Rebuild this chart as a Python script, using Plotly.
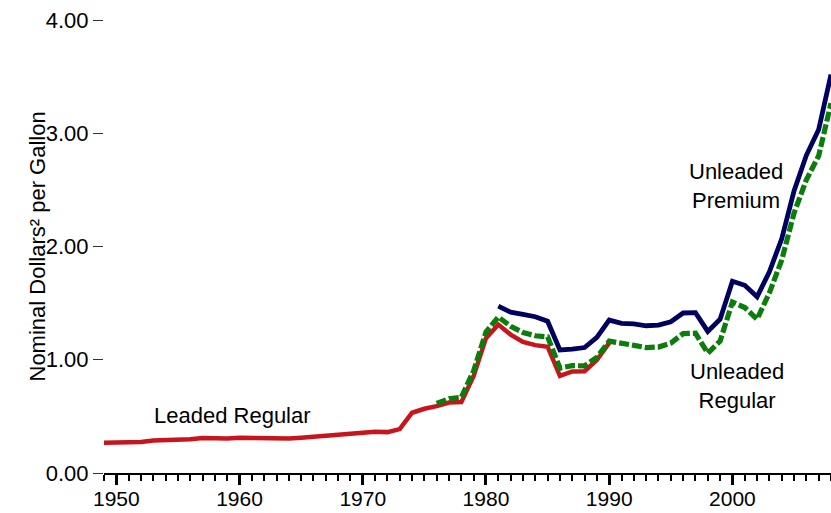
import plotly.graph_objects as go

years_leaded = list(range(1949, 1991))
leaded_regular = [0.268, 0.268, 0.272, 0.274, 0.287, 0.290, 0.291, 0.299, 0.310, 0.304,
                  0.305, 0.311, 0.308, 0.306, 0.304, 0.304, 0.312, 0.321, 0.332, 0.337,
                  0.348, 0.357, 0.364, 0.361, 0.388, 0.532, 0.567, 0.590, 0.622, 0.626,
                  0.857, 1.191, 1.311, 1.222, 1.157, 1.129, 1.115, 0.857, 0.897, 0.899,
                  0.998, 1.149]

years_unl_reg = list(range(1976, 2009))
unleaded_regular = [0.614, 0.656, 0.670, 0.903, 1.245, 1.378, 1.296, 1.241, 1.212, 1.202,
                    0.927, 0.948, 0.946, 1.021, 1.164, 1.140, 1.127, 1.108, 1.112, 1.147,
                    1.231, 1.234, 1.059, 1.165, 1.510, 1.461, 1.358, 1.591, 1.880, 2.295,
                    2.589, 2.801, 3.266]

years_unl_prem = list(range(1981, 2009))
unleaded_premium = [1.473, 1.420, 1.401, 1.380, 1.340, 1.087, 1.094, 1.108, 1.197, 1.350,
                    1.321, 1.317, 1.300, 1.306, 1.336, 1.413, 1.416, 1.250, 1.357, 1.693,
                    1.657, 1.556, 1.777, 2.068, 2.491, 2.805, 3.033, 3.519]

y_ticks = [0, 1, 2, 3, 4]
x_ticks = [1950, 1960, 1970, 1980, 1990, 2000]

FONT = "Liberation Sans, Arial, sans-serif"
W, H = 831, 513
ML, MR, MT, MB = 104, 0, 20, 40

fig = go.Figure()
fig.add_trace(go.Scatter(x=years_leaded, y=leaded_regular, mode="lines",
                         line=dict(color="#C8141C", width=4.5), name="Leaded Regular"))
fig.add_trace(go.Scatter(x=years_unl_prem, y=unleaded_premium, mode="lines",
                         line=dict(color="#00005F", width=4.8), name="Unleaded Premium"))
fig.add_trace(go.Scatter(x=years_unl_reg, y=unleaded_regular, mode="lines",
                         line=dict(color="#0A7D0A", width=5.2, dash="10px,3px"),
                         name="Unleaded Regular"))

fig.update_layout(
    width=W, height=H,
    margin=dict(l=ML, r=MR, t=MT, b=MB, pad=0, autoexpand=False),
    paper_bgcolor="white", plot_bgcolor="white",
    showlegend=False,
    font=dict(family=FONT, size=22, color="black"),
    xaxis=dict(range=[1949, 2008], tickvals=x_ticks, ticks="outside", ticklen=10,
               tickwidth=2.5, tickcolor="black", showline=True, linecolor="black",
               linewidth=2, showgrid=False, zeroline=False, ticklabelstandoff=-4,
               automargin=False,
               minor=dict(dtick=1, tick0=1949, ticks="outside", ticklen=6,
                          tickwidth=2, tickcolor="black", showgrid=False),
               tickfont=dict(size=21)),
    yaxis=dict(range=[0, 4], tickvals=y_ticks, tickformat=".2f", ticks="outside",
               ticklen=10, tickwidth=1, tickcolor="#333333", showline=False,
               showgrid=False, zeroline=False, automargin=False, tickfont=dict(size=22)),
)

fig.add_annotation(xref="paper", yref="paper", x=(22.5 - ML) / (W - ML - MR), y=0.5,
                   text="Nominal Dollars² per Gallon", textangle=-90, showarrow=False,
                   font=dict(size=22))
fig.add_annotation(x=1959.4, y=0.51, text="Leaded Regular", showarrow=False)
fig.add_annotation(x=2000.3, y=2.53, text="Unleaded<br>Premium", showarrow=False)
fig.add_annotation(x=2000.4, y=0.77, text="Unleaded<br>Regular", showarrow=False)

fig.write_html("out.html", config={"displayModeBar": False},
               post_script="document.body.style.margin='0';document.body.style.overflow='hidden';")
